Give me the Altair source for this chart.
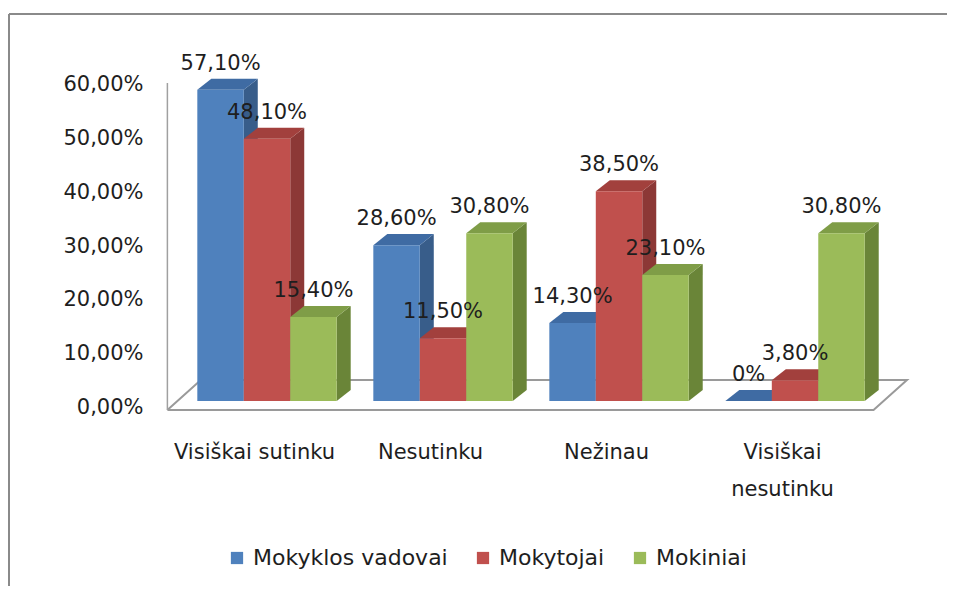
import json
import altair as alt
import pandas as pd

# ---------------- data ----------------
categories = ["Visiškai sutinku", "Nesutinku", "Nežinau", "Visiškai nesutinku"]
category_lines = [["Visiškai sutinku"], ["Nesutinku"], ["Nežinau"], ["Visiškai", "nesutinku"]]
series = ["Mokyklos vadovai", "Mokytojai", "Mokiniai"]
mokyklos_vadovai = [57.1, 28.6, 14.3, 0.0]
mokytojai = [48.1, 11.5, 38.5, 3.8]
mokiniai = [15.4, 30.8, 23.1, 30.8]
y_ticks = [0, 10, 20, 30, 40, 50, 60]

front_colors = ["#4F81BD", "#C0504D", "#9BBB59"]
top_colors = ["#3F6BA3", "#A2403D", "#7F9D47"]
side_colors = ["#385D8A", "#8C3836", "#6A8538"]

FONT = "DejaVu Sans"
TXT = "#1e1e1e"

# geometry (in scale units)
W = 0.264        # bar width (1 unit = category spacing)
DX = 0.0795      # 3D depth, x
DY = 2.02        # 3D depth, y (percent units)
XD = [-0.608, 3.710]
YD_BAR = [-3.486, 64.404]
YD_AXIS = [-2.42, 66.52]

values = [mokyklos_vadovai, mokytojai, mokiniai]


def fmt(v):
    return "0%" if v == 0 else f"{v:.2f}".replace(".", ",") + "%"


fronts, sides, tops = [], [], []
for g, cat in enumerate(categories):
    for s, ser in enumerate(series):
        v = values[s][g]
        xc = g + (s - 1) * W
        xl, xr = xc - W / 2, xc + W / 2
        bid = f"{g}-{s}"
        fronts.append(dict(cat=cat, series=ser, v=v, xl=xl, xr=xr, xc=xc, label=fmt(v), zero=0.0))
        sides += [
            dict(id=bid, series=ser, x=xr, y=0.0, y2=v),
            dict(id=bid, series=ser, x=xr + DX, y=DY, y2=v + DY),
        ]
        tops += [
            dict(id=bid, series=ser, x=xl, y=v, y2=v),
            dict(id=bid, series=ser, x=xl + DX, y=v, y2=v + DY),
            dict(id=bid, series=ser, x=xr, y=v, y2=v + DY),
            dict(id=bid, series=ser, x=xr + DX, y=v + DY, y2=v + DY),
        ]
fronts = pd.DataFrame(fronts)
sides = pd.DataFrame(sides)
tops = pd.DataFrame(tops)

# floor outline derived from the bar extent
x_first = fronts["xl"].min()
x_last = fronts["xr"].max()
f_front, f_back = -1.65, 3.85
fl = x_first - 0.17
fr = x_last + 0.05
floor = pd.DataFrame(
    dict(
        x=[fl, fr, fr + 0.19, fl + 0.19, fl],
        y=[f_front, f_front, f_back, f_back, f_front],
        o=[0, 1, 2, 3, 4],
    )
)
wall = pd.DataFrame(dict(x=[fl], y=[f_front], y2=[58.35]))


def xq(field):
    return alt.X(field, type="quantitative", scale=alt.Scale(domain=XD, nice=False, zero=False), axis=None)


def yq(field):
    return alt.Y(field, type="quantitative", scale=alt.Scale(domain=YD_BAR, nice=False, zero=False), axis=None)


def y2q(field):
    return alt.Y2(field)


# axis layer
axis_df = pd.DataFrame(dict(g=list(range(len(categories))), t=[0] * len(categories)))
x_label_expr = json.dumps(category_lines, ensure_ascii=False) + "[round(datum.value)]"
y_label_expr = "replace(format(datum.value, '.2f'), '.', ',') + '%'"

axis_layer = alt.Chart(axis_df).mark_point(opacity=0).encode(
    x=alt.X(
        "g:Q",
        scale=alt.Scale(domain=XD, nice=False, zero=False),
        axis=alt.Axis(
            values=list(range(len(categories))),
            labelExpr=x_label_expr,
            labelOffset=-13,
            labelPadding=21,
            labelLineHeight=37,
            labelBaseline="top",
            labelAngle=0,
            labelFontSize=21,
            labelFont=FONT,
            labelColor=TXT,
            labelOverlap=False,
            labelFlush=False,
            domain=False,
            ticks=False,
            grid=False,
            title=None,
        ),
    ),
    y=alt.Y(
        "t:Q",
        scale=alt.Scale(domain=YD_AXIS, nice=False, zero=False),
        axis=alt.Axis(
            values=y_ticks,
            labelExpr=y_label_expr,
            labelPadding=17,
            labelFontSize=21,
            labelFont=FONT,
            labelColor=TXT,
            labelOverlap=False,
            labelFlush=False,
            domain=False,
            ticks=False,
            grid=False,
            title=None,
        ),
    ),
)

floor_layer = alt.Chart(floor).mark_line(color="#9a9a9a", strokeWidth=2).encode(
    x=xq("x"), y=yq("y"), order="o:O"
)
wall_layer = alt.Chart(wall).mark_rule(color="#a0a0a0", strokeWidth=1.5).encode(
    x=xq("x"), y=yq("y"), y2=y2q("y2")
)

side_layer = alt.Chart(sides).mark_area(opacity=1).encode(
    x=xq("x"),
    y=yq("y"),
    y2=y2q("y2"),
    detail="id:N",
    color=alt.Color("series:N", scale=alt.Scale(domain=series, range=side_colors), legend=None),
)
top_layer = alt.Chart(tops).mark_area(opacity=1).encode(
    x=xq("x"),
    y=yq("y"),
    y2=y2q("y2"),
    detail="id:N",
    color=alt.Color("series:N", scale=alt.Scale(domain=series, range=top_colors), legend=None),
)
front_layer = alt.Chart(fronts).mark_rect().encode(
    x=xq("xl"),
    x2=alt.X2("xr"),
    y=yq("zero"),
    y2=y2q("v"),
    color=alt.Color(
        "series:N",
        scale=alt.Scale(domain=series, range=front_colors),
        legend=alt.Legend(
            title=None,
            orient="none",
            legendX=66,
            legendY=497,
            direction="horizontal",
            symbolType="square",
            symbolSize=150,
            symbolStrokeWidth=0,
            labelFontSize=22,
            labelFont=FONT,
            labelColor=TXT,
            labelOffset=5,
            columnPadding=24,
            labelLimit=400,
        ),
    ),
)
text_layer = alt.Chart(fronts).mark_text(
    dy=-26, fontSize=21, font=FONT, color=TXT, baseline="middle", align="center"
).encode(x=xq("xc"), y=yq("v"), text="label:N")

frame_df = pd.DataFrame(dict(a=[0]))
frame_left = alt.Chart(frame_df).mark_rule(color="#8a8a8a", strokeWidth=2).encode(
    x=alt.value(-151), y=alt.value(-36), y2=alt.value(560)
)
frame_top = alt.Chart(frame_df).mark_rule(color="#8a8a8a", strokeWidth=2).encode(
    x=alt.value(-151), x2=alt.value(900), y=alt.value(-36)
)

chart = (
    alt.layer(
        frame_left,
        frame_top,
        axis_layer,
        floor_layer,
        wall_layer,
        side_layer,
        top_layer,
        front_layer,
        text_layer,
    )
    .resolve_scale(x="independent", y="independent", color="independent")
    .properties(
        width=760,
        height=370,
        padding={"left": 152, "top": 42, "right": 27, "bottom": 166},
        autosize=alt.AutoSizeParams(type="none"),
        background="white",
    )
    .configure_view(stroke=None)
)

chart.save("out.html", embed_options={"renderer": "svg", "actions": False})
